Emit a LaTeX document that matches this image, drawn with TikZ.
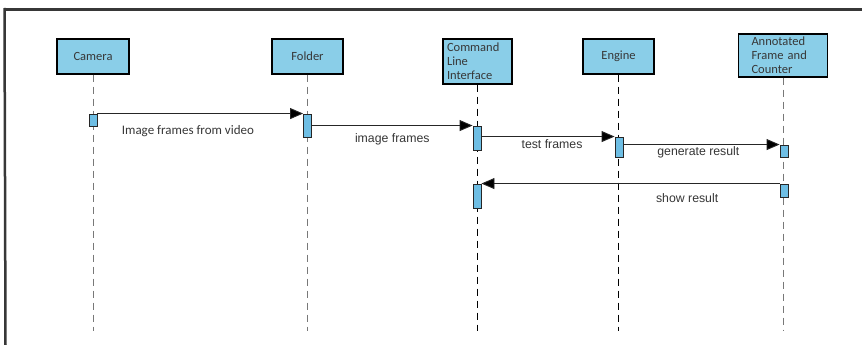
\documentclass[tikz,border=0pt]{standalone}
\usepackage{fontspec}
\setmainfont{Carlito}
\newfontfamily\labelfont{Liberation Sans}
\usetikzlibrary{arrows.meta}
\definecolor{boxblue}{RGB}{138,206,232}
\definecolor{actblue}{RGB}{110,190,228}
\definecolor{inkgray}{RGB}{55,55,55}
\definecolor{lifegray}{RGB}{120,120,120}
\tikzset{
  actor/.style={draw=black, line width=1.1pt, fill=boxblue, inner sep=0pt,
    font=\fontsize{12.5}{14}\selectfont, text=inkgray},
  actbar/.style={draw=black!85, line width=0.9pt, fill=actblue, inner sep=0pt,
    minimum width=8pt},
  life/.style={draw=lifegray, line width=1pt, dash pattern=on 7pt off 5pt},
  lifedark/.style={draw=black, line width=1.1pt, dash pattern=on 7pt off 5pt},
  msg/.style={draw=black!85, line width=0.9pt,
    -{Triangle[length=13pt,width=11pt,fill=black]}},
  msglabel/.style={font=\labelfont\fontsize{12.3}{14}\selectfont, text=inkgray, inner sep=0pt},
  msglabelc/.style={font=\fontsize{13}{14}\selectfont, text=inkgray, inner sep=0pt}
}
\begin{document}
\begin{tikzpicture}[x=1pt,y=-1pt]
  % canvas
  \fill[white] (0,0) rectangle (862,345);
  \useasboundingbox (0,0) rectangle (862,345);
  % frame edges
  \coordinate (ftl) at (5.5,9.5);
  \coordinate (ftr) at (862,9.5);
  \coordinate (fbl) at (5.5,345);
  \draw[inkgray, line width=3pt] (ftl) -- (ftr);
  \draw[inkgray, line width=2.5pt] (4.5,8) -- (fbl);

  % participants
  \node[actor, minimum width=72pt, minimum height=35pt] (cam) at (93,56.5) {Camera};
  \node[actor, minimum width=71pt, minimum height=35pt] (fol) at (307.5,56.5) {Folder};
  \node[actor, minimum width=69pt, minimum height=45pt, text width=61pt, align=left] (cli) at (477.5,61.5) {Command\\Line\\Interface};
  \node[actor, minimum width=71pt, minimum height=35pt] (eng) at (618.5,56.5) {Engine};
  \node[actor, minimum width=89pt, minimum height=43pt, text width=63pt, align=left] (ann) at (783,55.5) {Annotated\\Frame and\\Counter};

  % lifelines
  \coordinate (bottom) at (0,331);
  \draw[life] (cam.south) -- (cam.south |- bottom);
  \draw[life] (fol.south) -- (fol.south |- bottom);
  \draw[lifedark] (cli.south) -- (cli.south |- bottom);
  \draw[lifedark] (eng.south) -- (eng.south |- bottom);
  \draw[life] (ann.south) -- (ann.south |- bottom);

  % activation bars
  \node[actbar, minimum height=12pt] (camA) at (93,120) {};
  \node[actbar, minimum height=23pt] (folA) at (307.5,125.5) {};
  \node[actbar, minimum height=24pt] (cliA) at (477,138) {};
  \node[actbar, minimum height=20pt] (engA) at (619,147) {};
  \node[actbar, minimum height=12pt] (annA) at (784,151) {};
  \node[actbar, minimum height=13pt] (annB) at (784,190.5) {};
  \node[actbar, minimum height=24pt] (cliB) at (477,196) {};

  % messages
  \draw[msg] (folA.north west -| camA.east) -- (folA.north west)
    node[msglabelc, pos=0.44, yshift=-18pt] (m1) {Image frames from video};
  \draw[msg] (cliA.north west -| folA.east) -- (cliA.north west)
    node[msglabel, pos=0.5, yshift=-14pt] (m2) {image frames};
  \draw[msg] (engA.north west -| cliA.east) -- (engA.north west)
    node[msglabel, pos=0.53, yshift=-8pt] (m3) {test frames};
  \draw[msg] (annA.north west -| engA.east) -- (annA.north west)
    node[msglabel, pos=0.48, yshift=-7.5pt] (m4) {generate result};
  \draw[msg] (annB.north west) -- (annB.north west -| cliB.east)
    node[msglabel, pos=0.31, yshift=-15pt] (m5) {show result};
\end{tikzpicture}
\end{document}
